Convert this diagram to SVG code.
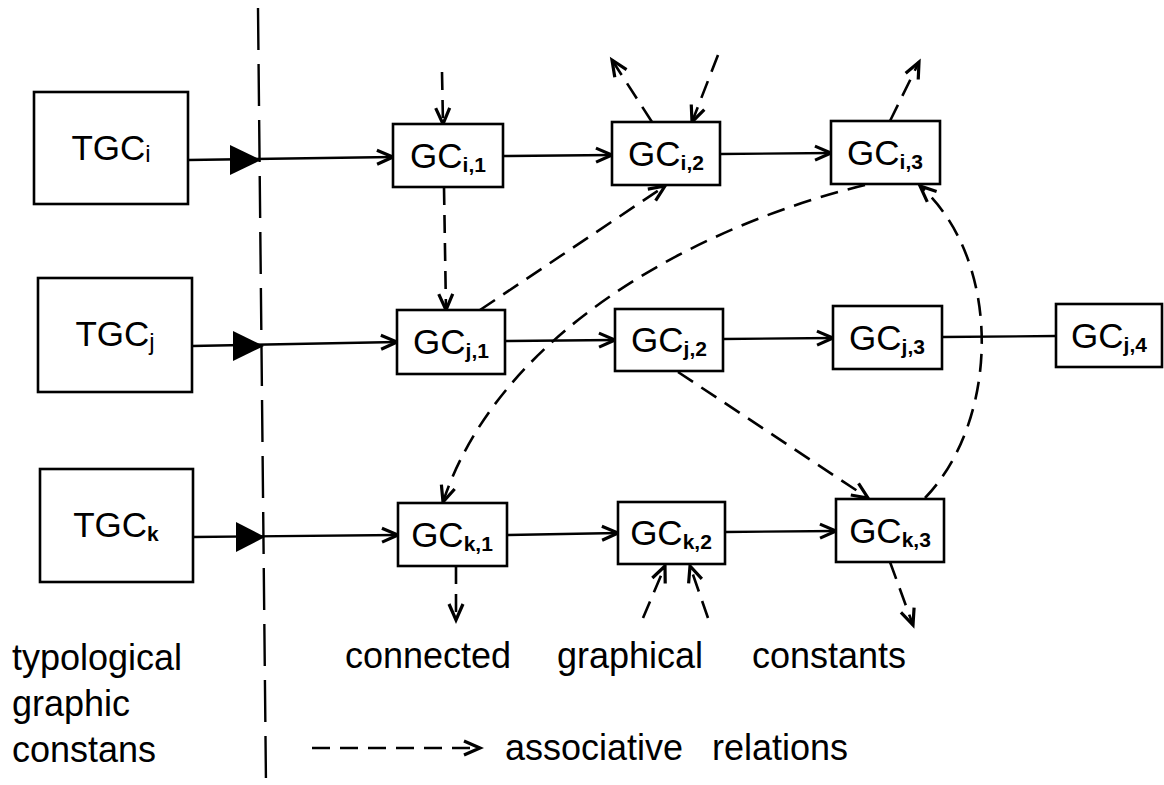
<svg xmlns="http://www.w3.org/2000/svg" width="1164" height="785" viewBox="0 0 1164 785">
<defs>
<style>
.box{fill:#fff;stroke:#000;stroke-width:2.6}
.ln{fill:none;stroke:#000;stroke-width:2.4}
.dl{fill:none;stroke:#000;stroke-width:2.6;stroke-dasharray:18 10}
.div{fill:none;stroke:#000;stroke-width:2.4;stroke-dasharray:42 14}
.t{font-family:"Liberation Sans",Arial,sans-serif;font-size:35px;fill:#000}
.s{font-size:21px;font-weight:bold}
.sr{font-size:24px}
.lab{font-family:"Liberation Sans",Arial,sans-serif;font-size:36px;fill:#000}
</style>
<marker id="a" markerUnits="userSpaceOnUse" markerWidth="20" markerHeight="16" refX="16" refY="7" orient="auto" overflow="visible">
<path d="M0,0 L16,7 L0,14" fill="none" stroke="#000" stroke-width="3.2" stroke-linejoin="miter"/>
</marker>
</defs>
<rect width="1164" height="785" fill="#fff"/>

<g id="divider">
<path class="div" d="M258,8 L266,785"/>
</g>

<g id="connectors">
<path class="ln" d="M188,160 L393,157" marker-end="url(#a)"/>
<path class="ln" d="M192,346 L397,342" marker-end="url(#a)"/>
<path class="ln" d="M193,537 L398,535" marker-end="url(#a)"/>
<polygon points="230,145 261,160 230,175" fill="#000"/>
<polygon points="233,331 264,346 233,361" fill="#000"/>
<polygon points="236,522 265,537 236,552" fill="#000"/>

<path class="ln" d="M503,156 L612,155" marker-end="url(#a)"/>
<path class="ln" d="M720,154 L831,153" marker-end="url(#a)"/>
<path class="ln" d="M505,341 L615,340" marker-end="url(#a)"/>
<path class="ln" d="M723,339 L833,338" marker-end="url(#a)"/>
<path class="ln" d="M942,337 L1056,336"/>
<path class="ln" d="M507,535 L618,533" marker-end="url(#a)"/>
<path class="ln" d="M725,532 L836,531" marker-end="url(#a)"/>

<path class="dl" d="M442,72 L443,124" marker-end="url(#a)"/>
<path class="dl" d="M444,187 L446,310" marker-end="url(#a)"/>
<path class="dl" d="M652,122 L612,60" marker-end="url(#a)"/>
<path class="dl" d="M718,55 L692,122" marker-end="url(#a)"/>
<path class="dl" d="M890,121 L919,62" marker-end="url(#a)"/>
<path class="dl" d="M480,310 L665,186" marker-end="url(#a)"/>
<path class="dl" d="M865,185 C700,225 500,330 443,502" marker-end="url(#a)"/>
<path class="dl" d="M925,498 C1000,420 1003,260 920,186" marker-end="url(#a)"/>
<path class="dl" d="M678,372 L868,498" marker-end="url(#a)"/>
<path class="dl" d="M456,566 L456,620" marker-end="url(#a)"/>
<path class="dl" d="M643,618 L665,566" marker-end="url(#a)"/>
<path class="dl" d="M708,618 L690,566" marker-end="url(#a)"/>
<path class="dl" d="M890,562 L913,625" marker-end="url(#a)"/>
<path class="dl" d="M312,748 L480,748" marker-end="url(#a)"/>
</g>

<g id="TGCi"><rect class="box" x="34" y="92" width="154" height="112"/>
<text class="t" x="111" y="160" text-anchor="middle">TGC<tspan class="sr" dy="2">i</tspan></text></g>
<g id="TGCj"><rect class="box" x="38" y="278" width="154" height="114"/>
<text class="t" x="115" y="346" text-anchor="middle">TGC<tspan class="sr" dy="4">j</tspan></text></g>
<g id="TGCk"><rect class="box" x="40" y="469" width="153" height="113"/>
<text class="t" x="116" y="537" text-anchor="middle">TGC<tspan class="s" dy="4">k</tspan></text></g>

<g id="GCi1"><rect class="box" x="393" y="124" width="110" height="63"/>
<text class="t" x="448" y="168" text-anchor="middle">GC<tspan class="s" dy="4">i,1</tspan></text></g>
<g id="GCi2"><rect class="box" x="612" y="122" width="108" height="63"/>
<text class="t" x="666" y="166" text-anchor="middle">GC<tspan class="s" dy="4">i,2</tspan></text></g>
<g id="GCi3"><rect class="box" x="831" y="121" width="109" height="63"/>
<text class="t" x="885" y="165" text-anchor="middle">GC<tspan class="s" dy="4">i,3</tspan></text></g>

<g id="GCj1"><rect class="box" x="397" y="310" width="108" height="64"/>
<text class="t" x="451" y="354" text-anchor="middle">GC<tspan class="s" dy="4">j,1</tspan></text></g>
<g id="GCj2"><rect class="box" x="615" y="309" width="108" height="62"/>
<text class="t" x="669" y="352" text-anchor="middle">GC<tspan class="s" dy="4">j,2</tspan></text></g>
<g id="GCj3"><rect class="box" x="833" y="306" width="109" height="63"/>
<text class="t" x="887" y="350" text-anchor="middle">GC<tspan class="s" dy="4">j,3</tspan></text></g>
<g id="GCj4"><rect class="box" x="1056" y="304" width="106" height="63"/>
<text class="t" x="1109" y="348" text-anchor="middle">GC<tspan class="s" dy="4">j,4</tspan></text></g>

<g id="GCk1"><rect class="box" x="398" y="503" width="109" height="63"/>
<text class="t" x="452" y="547" text-anchor="middle">GC<tspan class="s" dy="4">k,1</tspan></text></g>
<g id="GCk2"><rect class="box" x="618" y="502" width="107" height="62"/>
<text class="t" x="671" y="545" text-anchor="middle">GC<tspan class="s" dy="4">k,2</tspan></text></g>
<g id="GCk3"><rect class="box" x="836" y="499" width="108" height="63"/>
<text class="t" x="890" y="543" text-anchor="middle">GC<tspan class="s" dy="4">k,3</tspan></text></g>

<g id="labels">
<text class="lab" x="12" y="670">typological</text>
<text class="lab" x="12" y="716">graphic</text>
<text class="lab" x="12" y="762">constans</text>
<text class="lab" x="345" y="668">connected</text>
<text class="lab" x="557" y="668">graphical</text>
<text class="lab" x="752" y="668">constants</text>
<text class="lab" x="505" y="760">associative</text>
<text class="lab" x="712" y="760">relations</text>
</g>
</svg>
